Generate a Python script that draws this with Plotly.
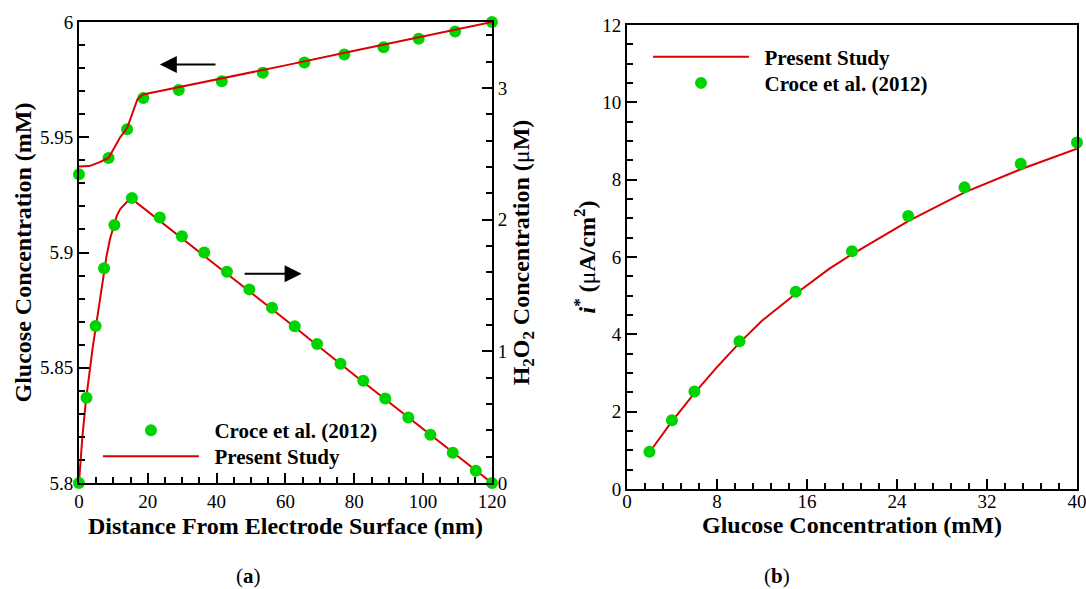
import plotly.graph_objects as go

# ---------------- Panel (a) data ----------------
dist_glu_ref = [0, 8.6, 14.0, 18.7, 29.0, 41.5, 53.4, 65.5, 77.1, 88.5, 98.7, 109.3, 120]
glu_ref = [5.934, 5.941, 5.9535, 5.967, 5.9705, 5.9743, 5.978, 5.9824, 5.9859, 5.9891, 5.9927, 5.9959, 6.0]

dist_glu_model = [0, 3, 5.7, 8.6, 11.9, 14, 17, 18.5, 20, 40, 60, 80, 100, 120]
glu_model = [5.9373, 5.9375, 5.939, 5.941, 5.9498, 5.954, 5.9665, 5.9685, 5.969, 5.975, 5.9812, 5.9875, 5.9937, 6.0]

dist_h2o2_ref = [0, 2.2, 4.85, 7.3, 10.3, 15.4, 23.5, 29.9, 36.4, 43.0, 49.5, 56.1, 62.7, 69.2,
                 76.0, 82.6, 89.0, 95.7, 102.1, 108.6, 115.3, 120]
h2o2_ref = [0, 0.648, 1.192, 1.63, 1.958, 2.164, 2.016, 1.874, 1.75, 1.604, 1.47, 1.33, 1.19, 1.055,
            0.905, 0.776, 0.641, 0.498, 0.366, 0.229, 0.092, 0.0]

dist_h2o2_model = [0, 1, 2, 3, 4, 5, 6, 7, 8, 9, 10, 11, 12, 13, 14, 15, 40, 60, 80, 100, 120]
h2o2_model = [0, 0.35, 0.62, 0.85, 1.03, 1.2, 1.38, 1.56, 1.72, 1.85, 1.95, 2.03, 2.08, 2.11, 2.14,
              2.165, 1.65, 1.24, 0.82, 0.41, 0]

xa_ticks = [0, 20, 40, 60, 80, 100, 120]
ya_ticks = [5.8, 5.85, 5.9, 5.95, 6.0]
ya_ticktext = ["5.8", "5.85", "5.9", "5.95", "6"]
ya2_ticks = [0, 1, 2, 3]

# ---------------- Panel (b) data ----------------
conc_ref = [2, 4, 6, 10, 15, 20, 25, 30, 35, 40]
i_ref = [0.96, 1.78, 2.52, 3.82, 5.1, 6.15, 7.06, 7.8, 8.41, 8.96]

conc_model = [2, 4, 6, 8, 10, 12, 15, 18, 20, 25, 30, 35, 40]
i_model = [0.95, 1.75, 2.48, 3.15, 3.78, 4.35, 5.05, 5.7, 6.07, 6.93, 7.67, 8.27, 8.80]

xb_ticks = [0, 8, 16, 24, 32, 40]
yb_ticks = [0, 2, 4, 6, 8, 10, 12]

NAME_REF = "\u00a0\u00a0<b>Croce et al. (2012)</b>"
NAME_MODEL = "\u00a0\u00a0<b>Present Study</b>"

# ---------------- styles ----------------
GREEN = "#00d400"
RED = "#dc0000"
SERIF = "Liberation Serif"
tickfont = dict(family=SERIF, size=19, color="black")
titlefont = dict(family=SERIF, size=24, color="black")
legfont = dict(family=SERIF, size=21, color="black")

fig = go.Figure()

# Panel (a)
fig.add_trace(go.Scatter(x=dist_glu_ref, y=glu_ref, mode="markers", name=NAME_REF,
                         marker=dict(color=GREEN, size=12), xaxis="x", yaxis="y",
                         cliponaxis=False, legend="legend"))
fig.add_trace(go.Scatter(x=dist_glu_model, y=glu_model, mode="lines", name=NAME_MODEL,
                         line=dict(color=RED, width=2), xaxis="x", yaxis="y",
                         cliponaxis=False, legend="legend2"))
fig.add_trace(go.Scatter(x=dist_h2o2_model, y=h2o2_model, mode="lines", showlegend=False,
                         line=dict(color=RED, width=2), xaxis="x", yaxis="y2", cliponaxis=False))
fig.add_trace(go.Scatter(x=dist_h2o2_ref, y=h2o2_ref, mode="markers", showlegend=False,
                         marker=dict(color=GREEN, size=12), xaxis="x", yaxis="y2", cliponaxis=False))

# Panel (b)
fig.add_trace(go.Scatter(x=conc_model, y=i_model, mode="lines", name=NAME_MODEL,
                         line=dict(color=RED, width=2), xaxis="x3", yaxis="y3",
                         cliponaxis=False, legend="legend3"))
fig.add_trace(go.Scatter(x=conc_ref, y=i_ref, mode="markers", name=NAME_REF,
                         marker=dict(color=GREEN, size=12), xaxis="x3", yaxis="y3",
                         cliponaxis=False, legend="legend4"))

axis_common = dict(showline=True, linewidth=2, linecolor="black", ticks="inside", ticklen=10,
                   tickwidth=2, tickcolor="black", showgrid=False, zeroline=False,
                   tickfont=tickfont, automargin=False, ticklabeloverflow="allow")


def minor(dt):
    return dict(dtick=dt, ticklen=6, tickwidth=1.5, ticks="inside", tickcolor="black")


def leg(x, y):
    return dict(x=x, y=y, xanchor="left", yanchor="top", bgcolor="rgba(0,0,0,0)",
                font=legfont, itemwidth=96)


fig.update_layout(
    width=1086, height=589,
    margin=dict(l=0, r=0, t=0, b=0),
    paper_bgcolor="white", plot_bgcolor="white",
    xaxis=dict(axis_common, domain=[0.0727, 0.4530], range=[0, 120], anchor="y", mirror=True,
               tickvals=xa_ticks, minor=dict(minor(5), tick0=0),
               title=dict(text="<b>Distance From Electrode Surface (nm)</b>", font=titlefont, standoff=6)),
    yaxis=dict(axis_common, domain=[0.180, 0.9626], range=[5.8, 6.0], anchor="x", side="left",
               tickvals=ya_ticks, ticktext=ya_ticktext, minor=dict(minor(0.01), tick0=5.8),
               title=dict(text="<b>Glucose Concentration (mM)</b>", font=titlefont, standoff=1)),
    yaxis2=dict(axis_common, range=[0, 3.5], anchor="x", overlaying="y", side="right",
                tickvals=ya2_ticks, minor=dict(minor(0.2), tick0=0),
                title=dict(text="<b>H<sub>2</sub>O<sub>2</sub> Concentration (</b>μ<b>M)</b>",
                           font=titlefont, standoff=6)),
    xaxis3=dict(axis_common, domain=[0.5773, 0.9917], range=[0, 40], anchor="y3", mirror=True,
                tickvals=xb_ticks, minor=dict(minor(1.6), tick0=0), ticklabelstandoff=-6,
                title=dict(text="<b>Glucose Concentration (mM)</b>", font=titlefont, standoff=0)),
    yaxis3=dict(axis_common, domain=[0.1698, 0.9576], range=[0, 12], anchor="x3", mirror=True,
                tickvals=yb_ticks, minor=dict(minor(0.5), tick0=0),
                title=dict(text="<b><i>i</i><sup>*</sup> (</b>μ<b>A/cm<sup>2</sup>)</b>",
                           font=titlefont, standoff=0)),
    legend=leg(0.0902, 0.3039),
    legend2=leg(0.0902, 0.2598),
    legend3=leg(0.5967, 0.9377),
    legend4=leg(0.5967, 0.8935),
    annotations=[
        dict(x=23.5, y=5.9816, ax=40.1, ay=5.9816, xref="x", yref="y", axref="x", ayref="y",
             text="", showarrow=True, arrowhead=2, arrowsize=1.7, arrowwidth=2, arrowcolor="black"),
        dict(x=64.7, y=1.589, ax=47.7, ay=1.589, xref="x", yref="y2", axref="x", ayref="y2",
             text="", showarrow=True, arrowhead=2, arrowsize=1.7, arrowwidth=2, arrowcolor="black"),
        dict(x=248 / 1086, y=(589 - 576) / 589, xref="paper", yref="paper", showarrow=False,
             text="(<b>a</b>)", font=dict(family=SERIF, size=21, color="black"),
             xanchor="center", yanchor="middle"),
        dict(x=777 / 1086, y=(589 - 576) / 589, xref="paper", yref="paper", showarrow=False,
             text="(<b>b</b>)", font=dict(family=SERIF, size=21, color="black"),
             xanchor="center", yanchor="middle"),
    ],
)

fig.write_html("out.html")
